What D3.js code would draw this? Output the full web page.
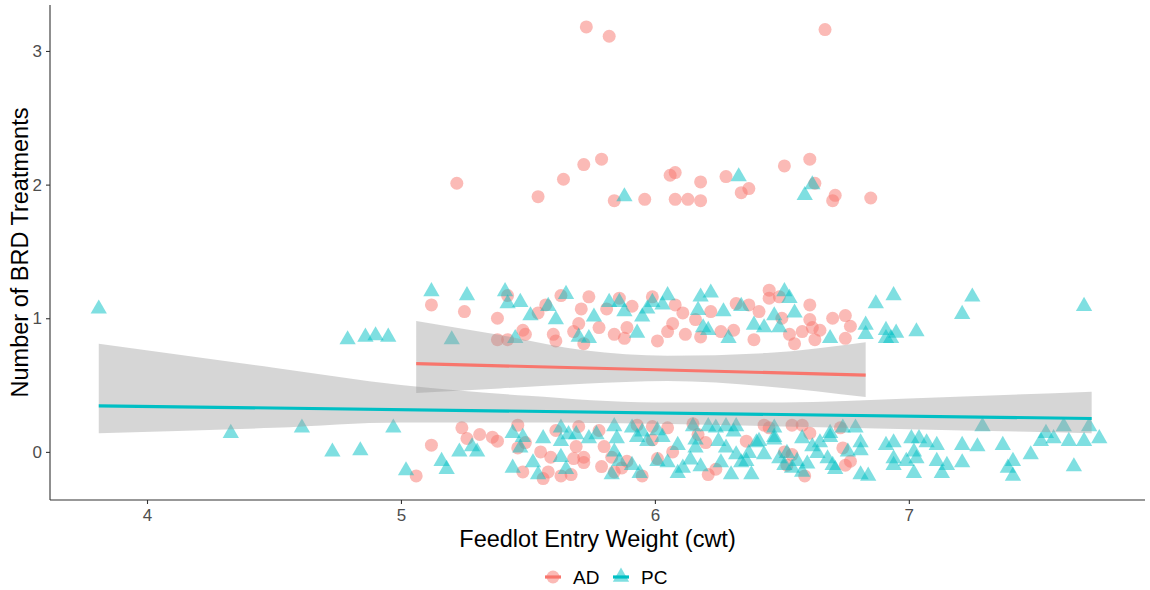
<!DOCTYPE html>
<html>
<head>
<meta charset="utf-8">
<script src="https://cdn.jsdelivr.net/npm/d3@7"></script>
<style>
  body { margin: 0; background: #fff; }
  svg { font-family: "Liberation Sans", Arial, sans-serif; }
</style>
</head>
<body>
<svg id="chart"></svg>
<script>
// AD group: [weight (cwt), BRD treatments (jittered)]
const adPoints = [
  [5.73,3.18],[5.82,3.11],[6.67,3.16],
  [5.22,2.01],[5.54,1.91],[5.64,2.04],[5.72,2.15],[5.79,2.19],[5.84,1.88],[5.96,1.89],
  [6.06,2.07],[6.08,2.09],[6.08,1.89],[6.13,1.89],[6.18,2.02],[6.18,1.88],[6.28,2.06],
  [6.34,1.94],[6.37,1.97],[6.51,2.14],[6.61,2.19],[6.63,2.01],[6.70,1.88],[6.71,1.92],[6.85,1.90],
  [5.12,1.10],[5.25,1.05],[5.38,1.00],[5.42,1.17],[5.38,0.84],[5.42,0.84],[5.48,0.91],[5.49,0.88],
  [5.54,1.04],[5.57,1.10],[5.60,0.88],[5.61,0.83],[5.63,1.17],[5.68,0.90],[5.70,0.96],[5.71,1.07],
  [5.74,1.16],[5.72,0.81],[5.78,0.93],[5.81,1.07],[5.84,0.88],[5.86,1.15],[5.89,0.93],[5.91,1.09],
  [5.88,0.85],[5.99,1.16],[6.01,0.83],[6.05,0.90],[6.07,0.96],[6.08,1.10],[6.11,1.04],[6.12,0.88],
  [6.16,0.99],[6.18,0.86],[6.22,1.05],[6.26,0.90],[6.31,0.91],[6.32,1.11],[6.37,1.10],[6.39,0.84],
  [6.41,1.05],[6.45,1.21],[6.45,1.15],[6.49,1.16],[6.50,1.00],[6.53,0.88],[6.55,0.81],[6.58,0.90],
  [6.61,1.10],[6.61,0.99],[6.62,0.93],[6.63,0.84],[6.65,0.91],[6.70,1.00],[6.75,1.02],[6.77,0.94],[6.75,0.85],
  [5.06,-0.18],[5.24,0.18],[5.12,0.05],[5.26,0.10],[5.31,0.13],[5.36,0.11],[5.38,0.08],[5.46,0.20],
  [5.46,0.03],[5.48,-0.15],[5.49,0.07],[5.56,-0.20],[5.59,-0.04],[5.63,-0.18],[5.67,-0.17],[5.61,0.16],
  [5.70,0.19],[5.69,0.04],[5.68,-0.05],[5.72,-0.04],[5.72,-0.08],[5.78,0.16],[5.79,-0.11],[5.80,0.04],
  [5.83,-0.04],[5.87,-0.12],[5.89,-0.07],[5.93,0.20],[5.95,-0.18],[5.99,0.09],[6.01,-0.05],[6.05,0.18],
  [6.07,0.00],[6.15,0.21],[6.17,0.13],[6.20,0.07],[6.21,-0.17],[6.24,-0.13],[6.36,0.08],[6.43,0.20],
  [6.45,0.18],[6.54,0.20],[6.58,0.20],[6.61,0.14],[6.51,0.00],[6.54,-0.02],[6.52,-0.10],[6.59,-0.18],
  [6.74,0.03],[6.75,-0.10],[6.77,-0.07],[6.73,0.18],[5.84,-0.15],[5.99,0.19],[5.58,-0.15],[5.55,0.00]
];

// PC group
const pcPoints = [
  [3.81,1.07],[4.79,0.84],[4.86,0.86],[4.90,0.87],[4.95,0.86],
  [4.33,0.14],[4.61,0.18],[4.73,0.00],[4.84,0.01],[4.97,0.18],[5.02,-0.14],
  [5.88,1.91],[6.33,2.06],[6.59,1.92],[6.62,2.00],
  [5.12,1.20],[5.26,1.17],[5.41,1.20],[5.42,1.11],[5.47,1.12],[5.51,1.02],[5.58,1.09],[5.61,0.99],
  [5.65,1.18],[5.76,1.01],[5.82,1.12],[5.86,1.12],[5.88,1.05],[5.95,1.01],[5.97,1.07],[5.99,1.12],
  [6.03,1.10],[6.05,1.17],[6.17,1.06],[6.18,1.16],[6.22,1.19],[6.27,1.05],[6.34,1.09],[6.39,0.95],
  [6.43,0.93],[6.47,1.02],[6.51,1.20],[6.53,1.15],[6.55,1.04],[6.49,0.93],[6.87,1.11],[6.94,1.17],
  [6.83,0.95],[6.91,0.91],[6.19,0.93],[6.21,0.91],[5.93,0.89],[5.70,0.86],[5.74,0.85],[6.29,0.85],
  [6.69,0.85],[6.83,0.88],[6.93,0.85],[5.45,0.85],[5.20,0.84],
  [7.25,1.16],[7.21,1.03],[7.69,1.09],[6.95,0.89],[7.03,0.90],[6.91,0.85],
  [5.16,-0.07],[5.18,-0.13],[5.23,0.00],[5.28,0.04],[5.30,0.00],[5.44,-0.12],[5.44,0.14],[5.48,0.11],
  [5.47,0.03],[5.52,-0.08],[5.56,0.10],[5.54,-0.17],[5.63,0.18],[5.63,-0.04],[5.63,0.08],[5.65,-0.13],
  [5.66,0.13],[5.69,0.13],[5.74,0.10],[5.77,0.13],[5.84,0.19],[5.85,0.10],[5.84,0.00],[5.83,-0.17],
  [5.86,-0.07],[5.91,0.18],[5.93,0.11],[5.95,0.15],[5.97,0.08],[6.01,0.16],[6.03,0.11],[5.91,-0.10],
  [5.94,-0.16],[6.01,-0.07],[6.05,-0.08],[6.09,0.05],[6.09,-0.16],[6.11,-0.12],[6.15,0.19],[6.16,0.03],
  [6.18,-0.11],[6.21,0.19],[6.24,0.18],[6.28,0.19],[6.31,0.15],[6.25,0.08],[6.28,0.03],[6.32,-0.02],
  [6.30,-0.17],[6.36,-0.07],[6.38,-0.17],[6.41,0.08],[6.43,-0.02],[6.47,0.18],[6.47,0.09],[6.49,-0.05],
  [6.51,-0.10],[6.54,-0.12],[6.56,-0.07],[6.58,0.10],[6.58,-0.15],[6.62,0.04],[6.65,0.07],[6.68,-0.05],
  [6.69,0.11],[6.70,-0.10],[6.74,0.18],[6.79,0.18],[6.76,0.00],[6.81,0.07],[6.81,-0.17],[6.84,-0.18],
  [6.91,0.05],[6.94,-0.05],[6.94,-0.10],[6.16,0.09],[6.32,0.19],[6.37,-0.01],[6.40,0.07],[6.47,0.11],
  [6.52,-0.01],[6.60,-0.09],[6.64,-0.01],[6.69,0.14],[6.81,0.01],[6.71,-0.13],[6.14,-0.06],[6.26,-0.08],[6.34,-0.08],
  [6.94,0.07],[7.01,0.10],[7.04,0.10],[7.07,0.07],[7.02,0.00],[7.03,-0.05],[6.99,-0.07],[7.11,0.05],
  [7.11,-0.07],[7.15,-0.10],[7.13,-0.16],[7.02,-0.16],[7.21,0.05],[7.21,-0.08],[7.27,0.04],[7.29,0.19],
  [7.37,0.05],[7.41,-0.07],[7.39,-0.12],[7.41,-0.18],[7.48,-0.02],[7.52,0.08],[7.54,0.14],[7.57,0.10],
  [7.61,0.19],[7.63,0.08],[7.69,0.08],[7.71,0.19],[7.75,0.10],[7.65,-0.11]
];

// fitted lines [x, y]
const adFit = [[5.06, 0.66], [6.83, 0.575]];
const pcFit = [[3.81, 0.345], [7.72, 0.25]];

// confidence bands [x, lower, upper]
const adBand = [
  [5.06, 0.44, 0.98], [5.39, 0.475, 0.875], [5.72, 0.51, 0.76],
  [6.05, 0.53, 0.72], [6.44, 0.49, 0.74], [6.83, 0.41, 0.82]
];
const pcBand = [
  [3.81, 0.14, 0.81], [4.5, 0.18, 0.63], [5.0, 0.22, 0.50], [5.5, 0.22, 0.42],
  [6.0, 0.21, 0.37], [6.5, 0.19, 0.37], [7.0, 0.17, 0.40], [7.72, 0.14, 0.45]
];

const xTicks = [4, 5, 6, 7];
const yTicks = [0, 1, 2, 3];
const groups = ["AD", "PC"];
const colors = { AD: "#F8766D", PC: "#00BFC4" };

const width = 1150, height = 590;
const margin = { left: 50, right: 5, top: 5, bottom: 90 };

const svg = d3.select("#chart")
  .attr("width", width)
  .attr("height", height);

const x = d3.scaleLinear()
  .domain([3.618, 7.93])
  .range([margin.left, width - margin.right]);
const y = d3.scaleLinear()
  .domain([-0.36, 3.344])
  .range([height - margin.bottom, margin.top]);

// points first, smooths on top (as ggplot layers)
const tri = d3.symbol().type(d3.symbolTriangle).size(115);

svg.append("g")
  .selectAll("circle")
  .data(adPoints)
  .join("circle")
  .attr("cx", d => x(d[0]))
  .attr("cy", d => y(d[1]))
  .attr("r", 6.5)
  .attr("fill", colors.AD)
  .attr("fill-opacity", 0.5);

svg.append("g")
  .selectAll("path")
  .data(pcPoints)
  .join("path")
  .attr("d", tri)
  .attr("transform", d => `translate(${x(d[0])},${y(d[1])})`)
  .attr("fill", colors.PC)
  .attr("fill-opacity", 0.5);

const area = d3.area()
  .x(d => x(d[0]))
  .y0(d => y(d[1]))
  .y1(d => y(d[2]))
  .curve(d3.curveMonotoneX);
const line = d3.line()
  .x(d => x(d[0]))
  .y(d => y(d[1]));

[[adBand, adFit, "AD"], [pcBand, pcFit, "PC"]].forEach(([band, fit, g]) => {
  svg.append("path")
    .attr("d", area(band))
    .attr("fill", "#999999")
    .attr("fill-opacity", 0.4);
  svg.append("path")
    .attr("d", line(fit))
    .attr("fill", "none")
    .attr("stroke", colors[g])
    .attr("stroke-width", 3.2);
});

// axes
const xAxis = svg.append("g")
  .attr("transform", `translate(0,${height - margin.bottom})`)
  .call(d3.axisBottom(x).tickValues(xTicks).tickSize(4).tickPadding(5).tickFormat(d3.format("d")));
const yAxis = svg.append("g")
  .attr("transform", `translate(${margin.left},0)`)
  .call(d3.axisLeft(y).tickValues(yTicks).tickSize(4).tickPadding(4).tickFormat(d3.format("d")));

[xAxis, yAxis].forEach(a => {
  a.select(".domain").attr("stroke", "#333").attr("stroke-width", 1.1).attr("d",
    a === xAxis ? `M${margin.left},0H${width - margin.right}` : `M0,${height - margin.bottom}V${margin.top}`);
  a.selectAll(".tick line").attr("stroke", "#333").attr("stroke-width", 1.1);
  a.selectAll(".tick text").attr("fill", "#4D4D4D").style("font-size", "17px");
});

// titles
svg.append("text")
  .attr("x", (margin.left + width - margin.right) / 2)
  .attr("y", 547)
  .attr("text-anchor", "middle")
  .style("font-size", "23.5px")
  .text("Feedlot Entry Weight (cwt)");

svg.append("text")
  .attr("transform", `translate(28,${(margin.top + height - margin.bottom) / 2}) rotate(-90)`)
  .attr("text-anchor", "middle")
  .style("font-size", "23.5px")
  .text("Number of BRD Treatments");

// legend
const legend = svg.append("g").attr("transform", "translate(0,577)");
const keyX = { AD: 553, PC: 621 };
groups.forEach(g => {
  const k = legend.append("g").attr("transform", `translate(${keyX[g]},0)`);
  k.append("line")
    .attr("x1", -8).attr("x2", 8)
    .attr("stroke", colors[g]).attr("stroke-width", 3.2);
  if (g === "AD") {
    k.append("circle").attr("r", 6.5).attr("fill", colors[g]).attr("fill-opacity", 0.5);
  } else {
    k.append("path").attr("d", tri).attr("fill", colors[g]).attr("fill-opacity", 0.5);
  }
  legend.append("text")
    .attr("x", keyX[g] + 20)
    .attr("y", 7)
    .style("font-size", "19px")
    .text(g);
});
</script>
</body>
</html>
